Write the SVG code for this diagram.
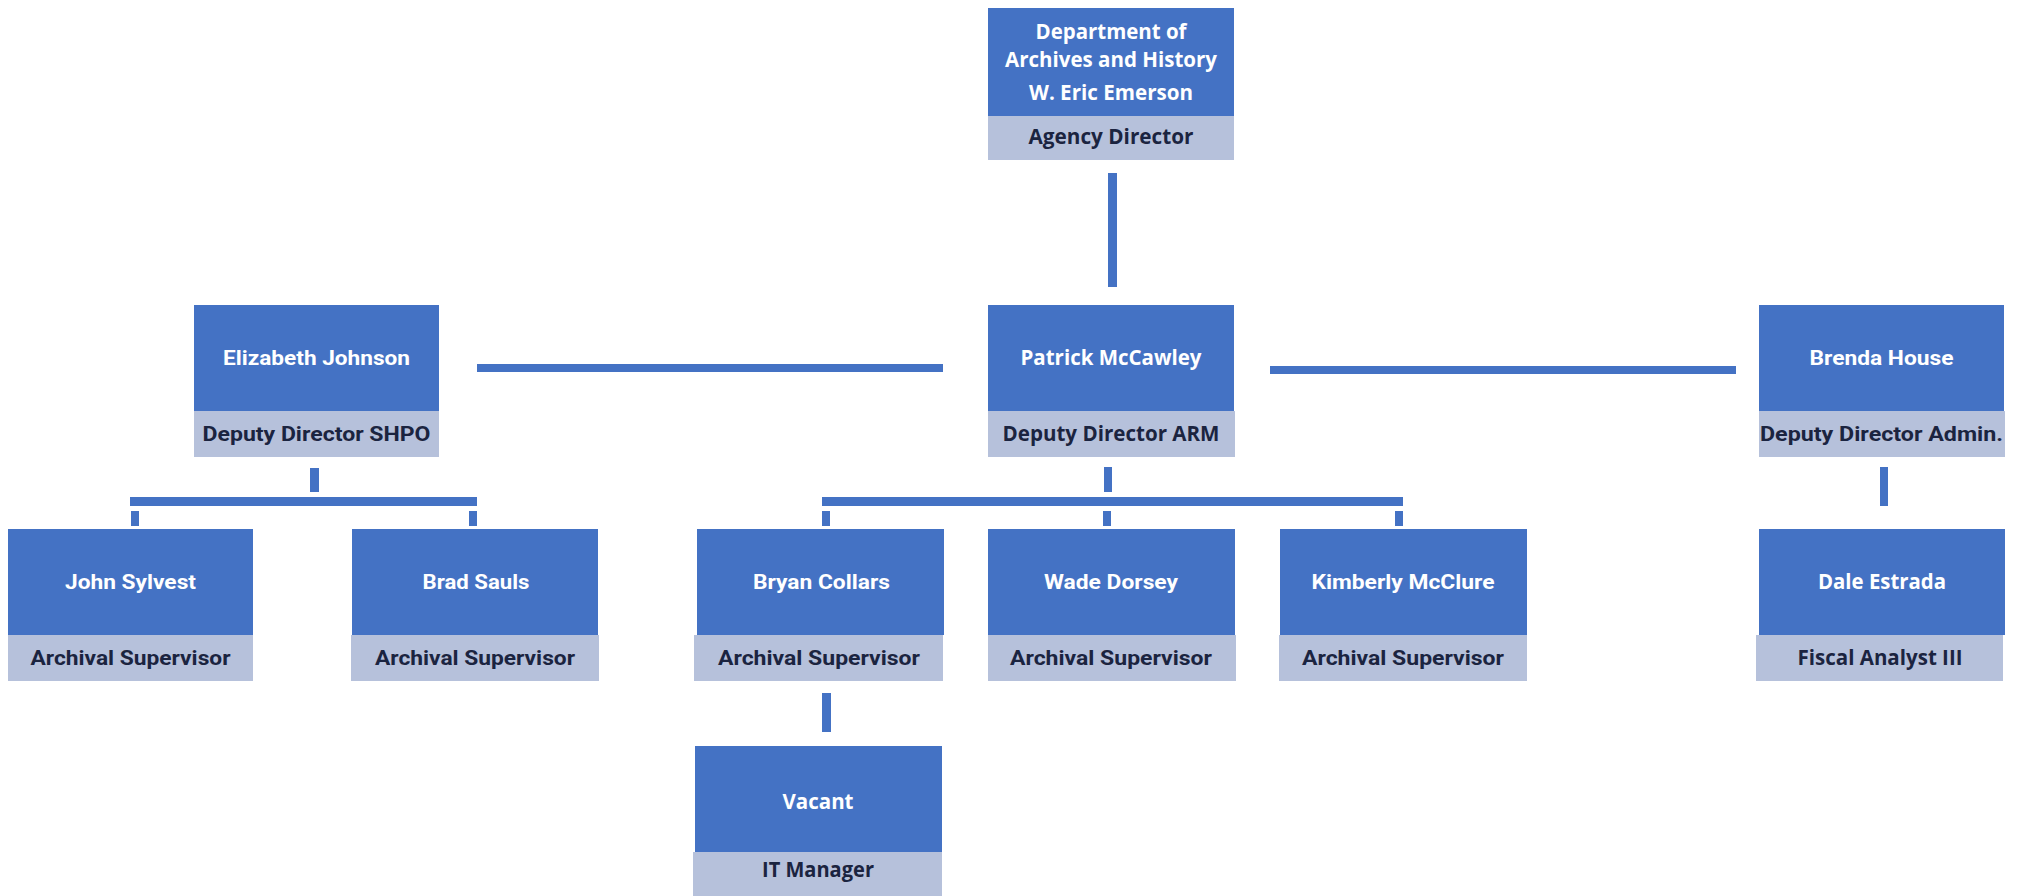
<svg xmlns="http://www.w3.org/2000/svg" width="2018" height="896" viewBox="0 0 2018 896">
<style>
.b{fill:#4472C4}
.g{fill:#B6C1DB}
.c{fill:#4472C4}
text{font-size:20px;font-weight:700;text-anchor:middle}
.w{fill:#FFFFFF;font-family:"Open Sans","DejaVu Sans",sans-serif;font-size:21px}
.wn{fill:#FFFFFF;font-family:Roboto,"Liberation Sans",sans-serif}
.d{fill:#1B2440;font-family:"Open Sans","DejaVu Sans",sans-serif;font-size:21px}
.dn{fill:#1B2440;font-family:Roboto,"Liberation Sans",sans-serif}
</style>
<rect width="2018" height="896" fill="#FFFFFF"/>
<g id="connectors">
<rect class="c" x="1108" y="173" width="9" height="114"/>
<rect class="c" x="477" y="364" width="466" height="8"/>
<rect class="c" x="1270" y="366" width="466" height="8"/>
<rect class="c" x="310" y="468" width="9" height="24"/>
<rect class="c" x="130" y="497" width="347" height="9"/>
<rect class="c" x="131" y="511" width="8" height="15"/>
<rect class="c" x="469" y="511" width="8" height="15"/>
<rect class="c" x="1104" y="467" width="8" height="25"/>
<rect class="c" x="822" y="497" width="581" height="9"/>
<rect class="c" x="822" y="511" width="8" height="15"/>
<rect class="c" x="1103" y="511" width="8" height="15"/>
<rect class="c" x="1395" y="511" width="8" height="15"/>
<rect class="c" x="1880" y="467" width="8" height="39"/>
<rect class="c" x="822" y="693" width="9" height="39"/>
</g>
<g id="director">
<rect class="b" x="988" y="8" width="246" height="108"/>
<rect class="g" x="988" y="116" width="246" height="44"/>
<text class="w" x="1111" y="39" textLength="151" lengthAdjust="spacingAndGlyphs">Department of</text>
<text class="w" x="1111" y="67" textLength="212" lengthAdjust="spacingAndGlyphs">Archives and History</text>
<text class="w" x="1111" y="100" textLength="164" lengthAdjust="spacingAndGlyphs">W. Eric Emerson</text>
<text class="d" x="1111" y="144" textLength="165" lengthAdjust="spacingAndGlyphs">Agency Director</text>
</g>
<g id="elizabeth">
<rect class="b" x="194" y="305" width="245" height="106"/>
<rect class="g" x="194" y="411" width="245" height="46"/>
<text class="wn" x="316.5" y="365" textLength="187" lengthAdjust="spacingAndGlyphs">Elizabeth Johnson</text>
<text class="dn" x="316.5" y="441" textLength="228" lengthAdjust="spacingAndGlyphs">Deputy Director SHPO</text>
</g>
<g id="patrick">
<rect class="b" x="988" y="305" width="246" height="106"/>
<rect class="g" x="988" y="411" width="247" height="46"/>
<text class="w" x="1111" y="365" textLength="181" lengthAdjust="spacingAndGlyphs">Patrick McCawley</text>
<text class="d" x="1111" y="441" textLength="217" lengthAdjust="spacingAndGlyphs">Deputy Director ARM</text>
</g>
<g id="brenda">
<rect class="b" x="1759" y="305" width="245" height="106"/>
<rect class="g" x="1759" y="411" width="246" height="46"/>
<text class="wn" x="1881.5" y="365" textLength="144" lengthAdjust="spacingAndGlyphs">Brenda House</text>
<text class="dn" x="1881.5" y="441" textLength="243" lengthAdjust="spacingAndGlyphs">Deputy Director Admin.</text>
</g>
<g id="john">
<rect class="b" x="8" y="529" width="245" height="106"/>
<rect class="g" x="8" y="635" width="245" height="46"/>
<text class="wn" x="130.5" y="589" textLength="131" lengthAdjust="spacingAndGlyphs">John Sylvest</text>
<text class="dn" x="130.5" y="665" textLength="200" lengthAdjust="spacingAndGlyphs">Archival Supervisor</text>
</g>
<g id="brad">
<rect class="b" x="352" y="529" width="246" height="106"/>
<rect class="g" x="351" y="635" width="248" height="46"/>
<text class="wn" x="476" y="589" textLength="107" lengthAdjust="spacingAndGlyphs">Brad Sauls</text>
<text class="dn" x="475" y="665" textLength="200" lengthAdjust="spacingAndGlyphs">Archival Supervisor</text>
</g>
<g id="bryan">
<rect class="b" x="697" y="529" width="247" height="106"/>
<rect class="g" x="694" y="635" width="249" height="46"/>
<text class="wn" x="821.5" y="589" textLength="137" lengthAdjust="spacingAndGlyphs">Bryan Collars</text>
<text class="dn" x="819" y="665" textLength="202" lengthAdjust="spacingAndGlyphs">Archival Supervisor</text>
</g>
<g id="wade">
<rect class="b" x="988" y="529" width="247" height="106"/>
<rect class="g" x="988" y="635" width="248" height="46"/>
<text class="wn" x="1111" y="589" textLength="134" lengthAdjust="spacingAndGlyphs">Wade Dorsey</text>
<text class="dn" x="1111" y="665" textLength="202" lengthAdjust="spacingAndGlyphs">Archival Supervisor</text>
</g>
<g id="kimberly">
<rect class="b" x="1280" y="529" width="247" height="106"/>
<rect class="g" x="1279" y="635" width="248" height="46"/>
<text class="wn" x="1403" y="589" textLength="183" lengthAdjust="spacingAndGlyphs">Kimberly McClure</text>
<text class="dn" x="1403" y="665" textLength="202" lengthAdjust="spacingAndGlyphs">Archival Supervisor</text>
</g>
<g id="dale">
<rect class="b" x="1759" y="529" width="246" height="106"/>
<rect class="g" x="1756" y="635" width="247" height="46"/>
<text class="w" x="1882" y="589" textLength="128" lengthAdjust="spacingAndGlyphs">Dale Estrada</text>
<text class="d" x="1880" y="665" textLength="165" lengthAdjust="spacingAndGlyphs">Fiscal Analyst III</text>
</g>
<g id="vacant">
<rect class="b" x="695" y="746" width="247" height="106"/>
<rect class="g" x="693" y="852" width="249" height="44"/>
<text class="w" x="818" y="809" textLength="71" lengthAdjust="spacingAndGlyphs">Vacant</text>
<text class="d" x="818" y="877" textLength="112" lengthAdjust="spacingAndGlyphs">IT Manager</text>
</g>
</svg>
